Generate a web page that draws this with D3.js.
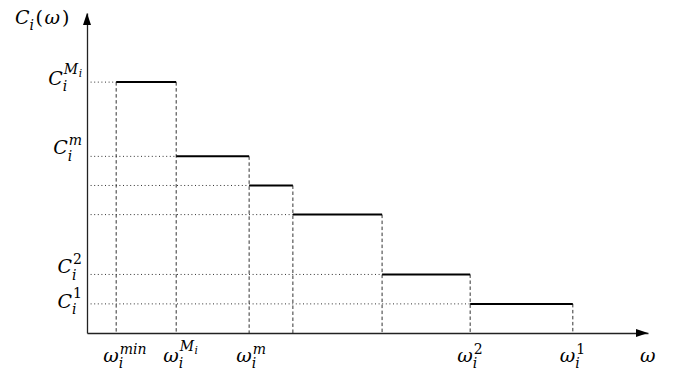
<!DOCTYPE html>
<html><head><meta charset="utf-8">
<script src="https://cdn.jsdelivr.net/npm/d3@7"></script>
<style>
body{margin:0;background:#fff}
svg{display:block}
</style></head>
<body>
<svg id="chart" width="674" height="370"></svg>
<script>
// ---- data ----
const breakpoints = [0.52, 1.59, 2.89, 3.67, 5.26, 6.83, 8.66];   // ω values where steps change
const levels = [7.84, 5.52, 4.61, 3.70, 1.83, 0.91];              // C_i value on each interval
const xTickLabels = ["ω_i^{min}", "ω_i^{M_i}", "ω_i^m", "", "", "ω_i^2", "ω_i^1"];
const yTickLabels = ["C_i^{M_i}", "C_i^m", "", "", "C_i^2", "C_i^1"];
const xAxisTitle = "ω";
const yAxisTitle = "C_i(ω)";

// ---- layout ----
const FONT = "'DejaVu Serif', serif";
const svg = d3.select("#chart");
const x = d3.scaleLinear().domain([0, 10]).range([87, 648]);
const y = d3.scaleLinear().domain([0, 10]).range([333, 13]);
const BASE = 19, SCRIPT = 14, SSCRIPT = 10.5;

// guides
const guides = svg.append("g");
levels.forEach((lv, k) => {
  guides.append("line")
    .attr("x1", x(0)).attr("x2", x(breakpoints[k]))
    .attr("y1", y(lv)).attr("y2", y(lv))
    .attr("stroke", "#333").attr("stroke-width", 1)
    .attr("stroke-dasharray", "1,2.6");
});
breakpoints.forEach((bp, k) => {
  const top = levels[Math.max(0, k - 1)];
  guides.append("line")
    .attr("x1", x(bp)).attr("x2", x(bp))
    .attr("y1", y(top)).attr("y2", y(0))
    .attr("stroke", "#333").attr("stroke-width", 1)
    .attr("stroke-dasharray", "3.5,2.5");
});

// steps
svg.append("g").selectAll("line").data(levels).join("line")
  .attr("x1", (d, k) => x(breakpoints[k]))
  .attr("x2", (d, k) => x(breakpoints[k + 1]))
  .attr("y1", d => y(d)).attr("y2", d => y(d))
  .attr("stroke", "#000").attr("stroke-width", 2);

// axes
const ax = svg.append("g").attr("transform", `translate(0,${y(0)})`)
  .call(d3.axisBottom(x).tickValues([]).tickSizeOuter(0));
const ay = svg.append("g").attr("transform", `translate(${x(0)},0)`)
  .call(d3.axisLeft(y).tickValues([]).tickSizeOuter(0));
[ax, ay].forEach(a => a.select(".domain").attr("stroke", "#222").attr("stroke-width", 1.3));
svg.append("path")
  .attr("d", `M${x(10)},${y(0)} l-12,-4 l0,8 z`).attr("fill", "#000");
svg.append("path")
  .attr("d", `M${x(0)},${y(10)} l-4,12 l8,0 z`).attr("fill", "#000");

// ---- math-ish label rendering: one <text> per label, tspans positioned ----
const isUpright = s => /^[0-9()]+$/.test(s);
function piece(t, s, xx, yy, size) {
  const ts = t.append("tspan").attr("x", xx).attr("y", yy)
    .attr("font-size", size)
    .attr("font-style", isUpright(s) ? "normal" : "italic")
    .text(s);
  return ts.node().getComputedTextLength();
}
function newText(g) {
  return g.append("text").attr("font-family", FONT).attr("fill", "#000");
}
function mathLabel(g, tex) {
  const m = tex.match(/^([^_^]+)_([^_^{}]+)\^(?:\{(.+)\}|(.+))$/);
  const base = m[1], sub = m[2], sup = m[3] || m[4];
  let supMain = sup, supSub = null;
  if (sup.includes("_")) [supMain, supSub] = sup.split("_");
  const t = newText(g);
  const wb = piece(t, base, 0, 0, BASE);
  const cap = base !== "ω";
  const ws = piece(t, sub, wb, BASE * 0.33, SCRIPT);
  const supY = supSub ? -BASE * 0.58 : (cap ? -BASE * 0.5 : -BASE * 0.42);
  let wp = piece(t, supMain, wb + 1, supY, SCRIPT);
  if (supSub) wp += piece(t, supSub, wb + 1.5 + wp, supY + 3, SSCRIPT) + 0.5;
  return wb + Math.max(ws, wp + 1);
}

// y tick labels (right-aligned next to axis)
const yBaseShift = {"C_i^{M_i}": 3, "C_i^m": -2, "C_i^2": -1, "C_i^1": 4};
yTickLabels.forEach((lab, k) => {
  if (!lab) return;
  const g = svg.append("g");
  const w = mathLabel(g, lab);
  g.attr("transform", `translate(${82 - w},${y(levels[k]) + (yBaseShift[lab] || 0)})`);
});

// x tick labels
xTickLabels.forEach((lab, k) => {
  if (!lab) return;
  const g = svg.append("g");
  mathLabel(g, lab);
  g.attr("transform", `translate(${x(breakpoints[k]) - 13},362)`);
});

// axis titles
{
  const g = svg.append("g").attr("transform", "translate(15,24)");
  const t = newText(g);
  let w = piece(t, "C", 0, 0, BASE);
  w += piece(t, "i", w, BASE * 0.3, SCRIPT) + 1.5;
  w += piece(t, "(", w, 0, BASE) + 1.5;
  w += piece(t, "ω", w, 0, BASE) + 2;
  piece(t, ")", w, 0, BASE);
}
{
  const g = svg.append("g").attr("transform", "translate(640,362)");
  const t = newText(g);
  piece(t, xAxisTitle, 0, 0, BASE);
}
</script>
</body></html>
